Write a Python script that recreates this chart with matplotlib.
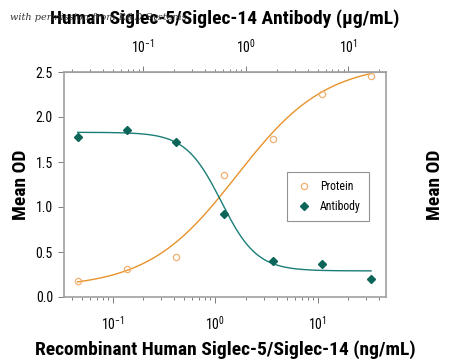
import numpy as np
import matplotlib
matplotlib.use('Agg')
import matplotlib.pyplot as plt
from matplotlib import font_manager

# Data (3-fold dilutions, ng/mL)
conc = [0.0457, 0.137, 0.412, 1.235, 3.70, 11.1, 33.3]
protein_od = [0.18, 0.31, 0.44, 1.36, 1.76, 2.26, 2.46]
antibody_od = [1.78, 1.86, 1.72, 0.92, 0.40, 0.37, 0.20]

# 4PL fit parameters (bottom, top, ec50, hill)
protein_fit = [0.10, 2.60, 1.63, 1.0]
antibody_fit = [1.83, 0.29, 1.15, 2.5]

orange = '#e8922a'
orange_pt = '#f0b070'
teal = '#1b7d78'
teal_pt = '#0d6458'
grey = '#a0a0a0'

names = [f.name for f in font_manager.fontManager.ttflist]
fam = [n for n in ['Roboto Condensed', 'PT Sans Narrow', 'Open Sans Condensed'] if n in names]
plt.rcParams['font.family'] = fam + ['DejaVu Sans']
plt.rcParams['mathtext.fontset'] = 'custom'
plt.rcParams['mathtext.rm'] = (fam + ['DejaVu Sans'])[0]


def four_pl(x, p):
    b, t, c, h = p
    return b + (t - b) / (1 + (c / x) ** h)


fig = plt.figure(figsize=(4.5, 3.64), dpi=100)
ax = fig.add_axes([64 / 450, 67 / 364, 322 / 450, 225 / 364])

xs = np.logspace(np.log10(conc[0]), np.log10(conc[-1]), 200)
ax.plot(xs, four_pl(xs, protein_fit), color=orange, lw=1.0)
ax.plot(xs, four_pl(xs, antibody_fit), color=teal, lw=1.0)
ax.plot(conc, protein_od, 'o', mfc='none', mec=orange_pt, ms=4.5, mew=0.9, label='Protein')
ax.plot(conc, antibody_od, 'D', color=teal_pt, ms=4, label='Antibody')

ax.set_xscale('log')
ax.set_xlim(0.0336, 46.6)
ax.set_ylim(0, 2.5)
ax.set_yticks([0, 0.5, 1.0, 1.5, 2.0, 2.5])
ax.set_yticklabels(['0.0', '0.5', '1.0', '1.5', '2.0', '2.5'])

for s in ax.spines.values():
    s.set_color(grey)
    s.set_linewidth(1.2)
ax.tick_params(which='both', color='#666666', labelsize=10, width=0.6)
ax.tick_params(which='major', length=4)
ax.tick_params(which='minor', length=2)
ax.tick_params(axis='y', left=True, right=True, labelleft=True, labelright=True, pad=4)
ax.tick_params(axis='x', pad=9)

ax.set_xlabel('Recombinant Human Siglec-5/Siglec-14 (ng/mL)', fontsize=14,
              fontweight='bold', labelpad=5)
ax.set_ylabel('Mean OD', fontsize=14, fontweight='bold', labelpad=4)
ax2 = ax.twinx()
ax2.set_ylim(0, 2.5)
ax2.set_yticks([])
for s in ax2.spines.values():
    s.set_visible(False)
ax2.set_ylabel('Mean OD', fontsize=14, fontweight='bold', labelpad=29)

# top axis: antibody concentration (ug/mL)
top = ax.secondary_xaxis('top', functions=(lambda x: x / 2.0, lambda x: x * 2.0))
top.tick_params(which='both', color='#666666', labelsize=10, width=0.6)
top.tick_params(which='major', length=4, pad=8)
top.tick_params(which='minor', length=2)
top.spines['top'].set_color(grey)
top.set_xlabel('Human Siglec-5/Siglec-14 Antibody (\u03bcg/mL)', fontsize=14,
               fontweight='bold', labelpad=10)

leg = ax.legend(loc='lower right', bbox_to_anchor=(0.965, 0.31), fontsize=8.5,
                frameon=True, fancybox=False, handletextpad=0.6, borderpad=0.7,
                labelspacing=0.6, handlelength=1.5)
leg.get_frame().set_edgecolor('#777777')
leg.get_frame().set_linewidth(0.8)

fig.text(10 / 450, 1 - 17 / 364, 'with permission from R&D Systems', fontsize=7,
         style='italic', family='DejaVu Serif', color='#333333', va='center')

fig.savefig('out.png', dpi=100)
